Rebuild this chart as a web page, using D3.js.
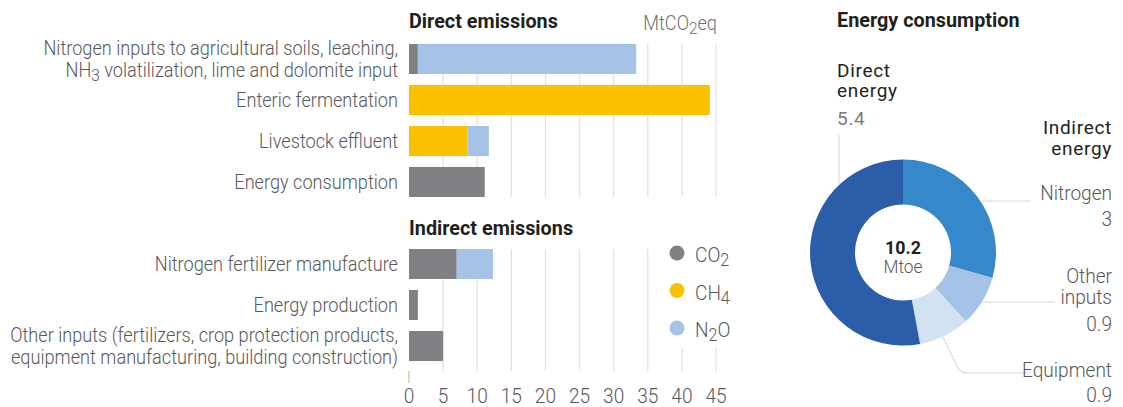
<!DOCTYPE html>
<html>
<head>
<meta charset="utf-8">
<script src="https://cdn.jsdelivr.net/npm/d3@7"></script>
<style>
  html, body { margin: 0; padding: 0; background: #fff; }
  svg { display: block; }
  text { font-family: Roboto, "Noto Sans", sans-serif; }
</style>
</head>
<body>
<svg id="chart" width="1123" height="407"></svg>
<script>
// ---------------- DATA ----------------
const directCategories = [
  "Nitrogen inputs to agricultural soils, leaching,\nNH_3 volatilization, lime and dolomite input",
  "Enteric fermentation",
  "Livestock effluent",
  "Energy consumption"
];
const directCO2 = [1.3, 0, 0, 11.1];
const directCH4 = [0, 44.1, 8.6, 0];
const directN2O = [32.0, 0, 3.1, 0];

const indirectCategories = [
  "Nitrogen fertilizer manufacture",
  "Energy production",
  "Other inputs (fertilizers, crop protection products,\nequipment manufacturing, building construction)"
];
const indirectCO2 = [7.0, 1.3, 5.0];
const indirectCH4 = [0, 0, 0];
const indirectN2O = [5.3, 0, 0];

const gasKeys = ["CO_2", "CH_4", "N_2O"];
const xTicks = [0, 5, 10, 15, 20, 25, 30, 35, 40, 45];

const energyLabels = ["Nitrogen", "Other inputs", "Equipment", "Direct energy"];
const energyValues = [3, 0.9, 0.9, 5.4];
const energyTotal = "10.2";
const energyUnit = "Mtoe";

// ---------------- STYLE ----------------
const gasColors = ["#818085", "#fbc100", "#a4c3e7"];
const pieColors = ["#3588c9", "#a4c3e7", "#d3e2f3", "#2c5da9"];
const labelColor = "#58585b";
const titleColor = "#231f20";
const gridColor = "#e3e3e3";

const svg = d3.select("#chart");

// horizontal condensation factors (the reference uses a condensed face)
function measure(str, size, weight) {
  const t = svg.append("text").attr("font-size", size).attr("font-weight", weight).text(str);
  const w = t.node().getComputedTextLength();
  t.remove();
  return w;
}
const kLight = 388 / measure("Other inputs (fertilizers, crop protection products,", 20, 300);
const kBold = 149 / measure("Direct emissions", 20, 700);

// helper: write text with "_x" subscripts
function richText(sel, str) {
  const parts = str.split(/(_\d)/);
  parts.forEach(p => {
    if (p.startsWith("_")) {
      sel.append("tspan").attr("baseline-shift", "-22%").attr("font-size", "0.85em").text(p.slice(1));
    } else if (p.length) {
      sel.append("tspan").text(p);
    }
  });
}
function condText(parent, xx, yy, str, o = {}) {
  const bold = o.weight === 700;
  const k = bold ? kBold : kLight;
  const t = parent.append("text")
    .attr("transform", `translate(${xx},${yy}) scale(${k},1)`)
    .attr("font-size", o.size || 20)
    .attr("font-weight", o.weight || 300)
    .attr("fill", o.color || (bold ? titleColor : labelColor))
    .attr("text-anchor", o.anchor || "start");
  richText(t, String(str));
  return t;
}

// ---------------- BAR CHART ----------------
const x = d3.scaleLinear().domain([0, 45]).range([409, 716]);

const yDirect = d3.scaleBand().domain(directCategories).range([38.5, 202.5]).paddingInner(11 / 41).paddingOuter(11 / 82);
const yIndirect = d3.scaleBand().domain(indirectCategories).range([243.5, 366.5]).paddingInner(11 / 41).paddingOuter(11 / 82);

function section(cats, co2, ch4, n2o, y, gridTop, gridBottom) {
  const rows = cats.map((c, i) => ({ cat: c, CO2: co2[i], CH4: ch4[i], N2O: n2o[i] }));
  const stack = d3.stack().keys(["CO2", "CH4", "N2O"])(rows);

  svg.append("g").selectAll("line").data(xTicks.filter(t => t > 0)).join("line")
    .attr("x1", d => x(d)).attr("x2", d => x(d))
    .attr("y1", gridTop).attr("y2", gridBottom)
    .attr("stroke", gridColor).attr("stroke-width", 1.3);

  svg.append("g").selectAll("g").data(stack).join("g")
    .attr("fill", (d, i) => gasColors[i])
    .selectAll("rect").data(d => d.filter(s => s[1] - s[0] > 0)).join("rect")
    .attr("x", d => x(d[0]))
    .attr("width", d => x(d[1]) - x(d[0]))
    .attr("y", d => y(d.data.cat))
    .attr("height", y.bandwidth());

  const lg = svg.append("g");
  cats.forEach(c => {
    const lines = c.split("\n");
    const cy = y(c) + y.bandwidth() / 2;
    const lh = 21.5;
    lines.forEach((ln, k) => {
      condText(lg, 398, cy + 7 + (k - (lines.length - 1) / 2) * lh, ln, { anchor: "end" });
    });
  });
}

section(directCategories, directCO2, directCH4, directN2O, yDirect, 44, 197);
section(indirectCategories, indirectCO2, indirectCH4, indirectN2O, yIndirect, 249, 371);

// zero tick
svg.append("line").attr("x1", x(0)).attr("x2", x(0)).attr("y1", 371).attr("y2", 383)
  .attr("stroke", "#c9c49c").attr("stroke-width", 1.3);

// x axis tick labels
const axg = svg.append("g");
xTicks.forEach(t => condText(axg, x(t), 403, t, { size: 21, anchor: "middle" }));

// titles
condText(svg, 409, 28, "Direct emissions", { weight: 700 });
condText(svg, 409, 235, "Indirect emissions", { weight: 700 });
condText(svg, 717, 30, "MtCO_2eq", { anchor: "end", color: "#6d6e71" });

// legend (white backing over gridlines)
svg.append("rect").attr("x", 662).attr("y", 240).attr("width", 60).attr("height", 107).attr("fill", "#fff");
gasKeys.forEach((g, i) => {
  const yy = 253 + i * 37.5;
  svg.append("circle").attr("cx", 677).attr("cy", yy).attr("r", 7.5).attr("fill", gasColors[i]);
  condText(svg, 695, yy + 9, g, { size: 21 });
});

// ---------------- DONUT ----------------
const cx = 903, cy = 252.5, rOut = 93, rIn = 48;
const pie = d3.pie().sort(null).value(d => d)(energyValues);
const arc = d3.arc().innerRadius(rIn).outerRadius(rOut);
const pg = svg.append("g").attr("transform", `translate(${cx},${cy})`);
pg.selectAll("path").data(pie).join("path").attr("d", arc).attr("fill", (d, i) => pieColors[i]);

condText(svg, cx, cy + 1.5, energyTotal, { weight: 700, size: 18, anchor: "middle" });
condText(svg, cx, cy + 20.5, energyUnit, { size: 19, anchor: "middle" });

condText(svg, 837, 27, "Energy consumption", { weight: 700 });

// leader lines
const lead = svg.append("g").attr("fill", "none").attr("stroke", "#d9d9d9").attr("stroke-width", 1.2);
const edgeX = yy => cx + Math.sqrt(rOut * rOut - (yy - cy) * (yy - cy));
const edgeY = xx => cy - Math.sqrt(rOut * rOut - (xx - cx) * (xx - cx));
lead.append("line").attr("x1", 839).attr("x2", 839).attr("y1", 135).attr("y2", edgeY(839));
lead.append("line").attr("x1", edgeX(201)).attr("x2", 1031).attr("y1", 201).attr("y2", 201);
lead.append("line").attr("x1", edgeX(302)).attr("x2", 1055).attr("y1", 302).attr("y2", 302);
lead.append("path").attr("d", "M943,337 L957,366 Q960,373 968,373 L1027,373");

// pie labels: wide face for the group names
function wideText(xx, yy, str, o = {}) {
  svg.append("text").attr("x", xx).attr("y", yy).text(str)
    .attr("font-size", 19).attr("font-weight", 400).attr("letter-spacing", 0.7)
    .attr("fill", o.color || titleColor).attr("text-anchor", o.anchor || "start");
}
wideText(837, 77, "Direct");
wideText(837, 97, "energy");
wideText(837, 125, String(energyValues[3]), { color: "#7a7a7d" });
wideText(1112, 134, "Indirect", { anchor: "end" });
wideText(1112, 155, "energy", { anchor: "end" });

condText(svg, 1112, 200, energyLabels[0], { anchor: "end", size: 21 });
condText(svg, 1112, 226, energyValues[0], { anchor: "end", size: 21 });
condText(svg, 1112, 283, "Other", { anchor: "end", size: 21 });
condText(svg, 1112, 304, "inputs", { anchor: "end", size: 21 });
condText(svg, 1112, 331, energyValues[1], { anchor: "end", size: 21 });
condText(svg, 1112, 377, energyLabels[2], { anchor: "end", size: 21 });
condText(svg, 1112, 402, energyValues[2], { anchor: "end", size: 21 });
</script>
</body>
</html>
